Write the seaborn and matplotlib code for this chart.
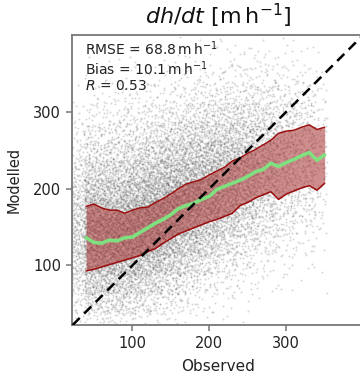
"""
plot.py - dh/dt modelado vs observado (nuvem de pontos + faixa interquartil)
"""

import numpy as np
import matplotlib
matplotlib.use("Agg")
import matplotlib.pyplot as plt
import seaborn as sns

# --- dados -------------------------------------------------------------------
# centros dos bins de observado e estatisticas do modelado em cada bin
bin_x = [40, 50, 60, 70, 80, 90, 100, 110, 120, 130, 140, 150, 160, 170, 180, 190,
         200, 210, 220, 230, 240, 250, 260, 270, 280, 290, 300, 310, 320, 330, 340, 350]
mediana = [136, 130, 129, 133, 132, 136, 137, 143, 149, 155, 160, 166, 174, 178, 181, 186,
           190, 199, 203, 207, 211, 216, 222, 225, 233, 229, 234, 238, 243, 247, 237, 244]
superior = [177, 180, 175, 172, 172, 168, 172, 175, 176, 182, 187, 193, 200, 206, 209, 212,
            218, 223, 228, 236, 240, 246, 251, 257, 263, 272, 275, 276, 280, 283, 277, 280]
inferior = [93, 95, 98, 101, 104, 107, 110, 113, 118, 122, 129, 135, 141, 145, 149, 153,
            157, 160, 164, 168, 178, 182, 188, 192, 196, 186, 193, 197, 201, 204, 198, 207]

# nuvem de pontos: contagem aproximada por celula (25 x 25), lida da densidade
cel_x = [25, 50, 75, 100, 125, 150, 175, 200, 225, 250, 275, 300, 325, 350]
cel_y = [25, 50, 75, 100, 125, 150, 175, 200, 225, 250, 275, 300, 325, 350, 375, 400]
contagem = [
    [40, 80, 140, 190, 210, 190, 150, 110, 70, 45, 25, 12, 5, 2, 0],
    [50, 90, 150, 200, 215, 195, 155, 110, 70, 45, 25, 12, 5, 2, 0],
    [45, 90, 150, 205, 225, 205, 165, 120, 80, 50, 28, 14, 6, 2, 0],
    [30, 70, 130, 190, 225, 225, 190, 140, 95, 60, 35, 18, 8, 3, 1],
    [20, 50, 100, 160, 210, 230, 215, 170, 120, 75, 42, 22, 10, 4, 1],
    [12, 32, 70, 120, 175, 210, 215, 185, 140, 95, 55, 28, 12, 5, 2],
    [6, 20, 45, 85, 135, 175, 195, 185, 150, 110, 68, 36, 16, 6, 2],
    [3, 10, 25, 55, 95, 135, 165, 170, 155, 120, 80, 45, 20, 8, 3],
    [2, 5, 15, 35, 65, 100, 130, 145, 140, 115, 80, 48, 24, 10, 3],
    [1, 3, 8, 20, 42, 70, 95, 112, 115, 100, 75, 48, 25, 10, 4],
    [0, 2, 5, 12, 26, 45, 65, 80, 88, 80, 62, 40, 22, 10, 3],
    [0, 1, 3, 7, 15, 28, 42, 55, 60, 58, 45, 30, 16, 7, 2],
    [0, 0, 2, 4, 9, 17, 26, 35, 40, 38, 30, 20, 11, 5, 2],
]

texto_stats = ("RMSE = 68.8$\\,\\mathrm{m\\,h^{-1}}$\n"
               "Bias = 10.1$\\,\\mathrm{m\\,h^{-1}}$\n"
               "$R$ = 0.53")


def inverso_radical(k, base):
    # sequencia de van der Corput (Halton), deterministica
    r = np.zeros(len(k))
    f = 1.0 / base
    k = k.copy()
    while np.any(k > 0):
        r += f * (k % base)
        k //= base
        f /= base
    return r


def espalhar_pontos(cel_x, cel_y, contagem, margem=12.5):
    # espalha os pontos de cada celula (com sobreposicao entre vizinhas)
    # numa sequencia de Halton, sem numeros aleatorios
    xs, ys = [], []
    for i in range(len(cel_x) - 1):
        x0 = cel_x[i] - margem
        x1 = min(cel_x[i + 1] + margem, cel_x[-1] + 3)
        for j in range(len(cel_y) - 1):
            n = contagem[i][j]
            if n == 0:
                continue
            y0 = cel_y[j] - margem
            y1 = cel_y[j + 1] + margem
            c = i * 15 + j + 1
            k = np.arange(n) + 17 * c
            u = (inverso_radical(k, 2) + c * 0.6180339887) % 1
            v = (inverso_radical(k, 3) + c * 0.4142135624) % 1
            xs.append(x0 + u * (x1 - x0))
            ys.append(y0 + v * (y1 - y0))
    return np.concatenate(xs), np.concatenate(ys)


sns.set_style("ticks")
plt.rcParams["font.family"] = ["DejaVu Sans"]

fig = plt.figure(figsize=(3.6, 3.81), dpi=100)
ax = fig.add_axes([0.2008, 0.147, 0.808, 0.761])

px, py = espalhar_pontos(cel_x, cel_y, contagem)
sns.scatterplot(x=px, y=py, s=2.0, color="k", alpha=0.16, linewidth=0, ax=ax)

ax.fill_between(bin_x, inferior, superior, color="#a83232", alpha=0.55, linewidth=0,
                zorder=3)
sns.lineplot(x=bin_x, y=superior, color="#9b0f0f", linewidth=1.1, ax=ax, zorder=4)
sns.lineplot(x=bin_x, y=inferior, color="#9b0f0f", linewidth=1.1, ax=ax, zorder=4)
sns.lineplot(x=bin_x, y=mediana, color="#7fe07f", linewidth=2.6, ax=ax, zorder=5)

ax.axline((100, 100), slope=1, color="k", linestyle="--", linewidth=1.8,
          dashes=(4, 2.5), zorder=6)

ax.set_xlim(22, 400)
ax.set_ylim(22.5, 400)
ax.set_xticks([100, 200, 300])
ax.set_yticks([100, 200, 300])

ax.set_title("$dh/dt\\ [\\mathrm{m\\,h^{-1}}]$", fontsize=16, color="#111111", pad=8)
ax.set_xlabel("Observed", fontsize=11, color="#222222", labelpad=6)
ax.set_ylabel("Modelled", fontsize=10.5, color="#222222", labelpad=8)
ax.tick_params(labelsize=10.5, colors="#777777", labelcolor="#222222",
               length=4.5, width=1.1)
for lado in ["left", "bottom", "top", "right"]:
    ax.spines[lado].set_color("#777777")
    ax.spines[lado].set_linewidth(1.3)

ax.text(0.045, 0.985, texto_stats, transform=ax.transAxes, ha="left", va="top",
        fontsize=10, color="#222222", linespacing=1.1, zorder=7)

fig.savefig("out.png", dpi=100)
plt.close(fig)
